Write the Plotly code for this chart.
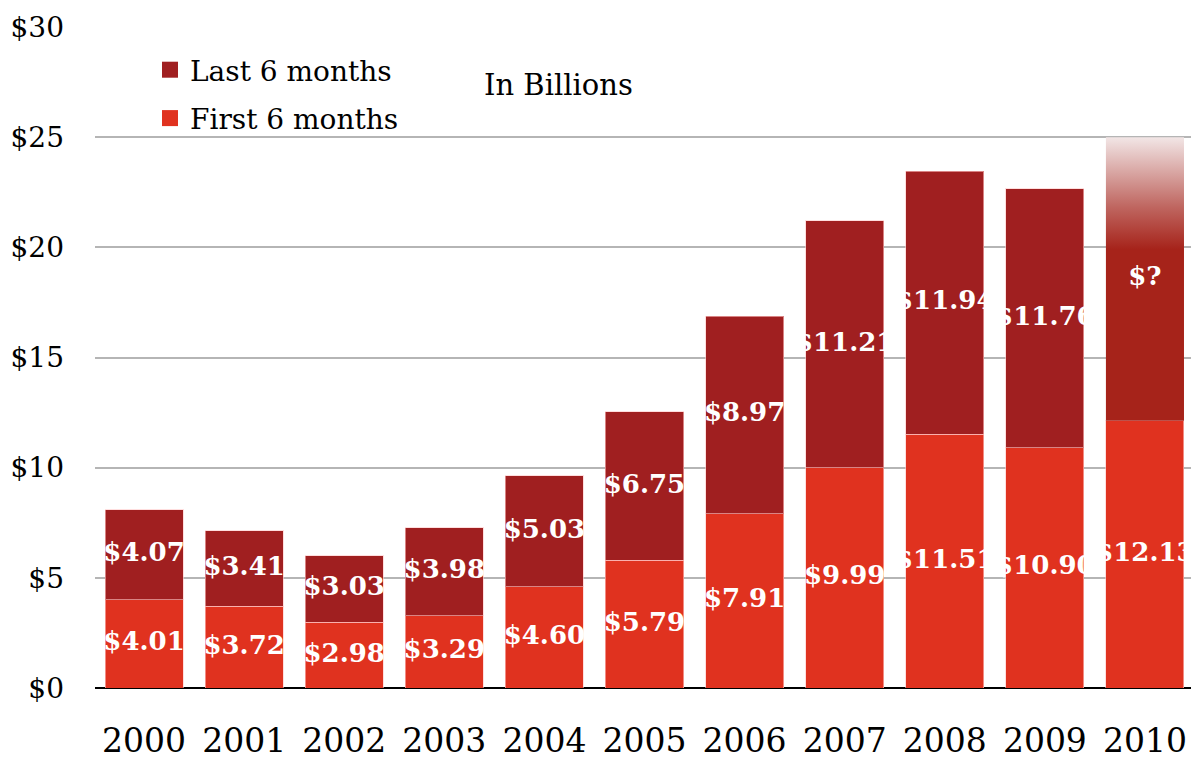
import plotly.graph_objects as go

years = ["2000", "2001", "2002", "2003", "2004", "2005", "2006", "2007", "2008", "2009", "2010"]
first_half = [4.01, 3.72, 2.98, 3.29, 4.60, 5.79, 7.91, 9.99, 11.51, 10.90, 12.13]
last_half = [4.07, 3.41, 3.03, 3.98, 5.03, 6.75, 8.97, 11.21, 11.94, 11.76, None]
projected_total_2010 = 25.0
first_labels = ["$4.01", "$3.72", "$2.98", "$3.29", "$4.60", "$5.79", "$7.91", "$9.99", "$11.51", "$10.90", "$12.13"]
last_labels = ["$4.07", "$3.41", "$3.03", "$3.98", "$5.03", "$6.75", "$8.97", "$11.21", "$11.94", "$11.76", "$?"]

C_FIRST = "#e0321f"
C_LAST = "#a01f20"
C_PROJ = "#a6231a"
FONT = "DejaVu Serif"
BW = 0.78

W, H = 1191, 760
ML, MT, MB = 95, 27, 72

xs = list(range(len(years)))
fig = go.Figure()

fig.add_trace(go.Bar(
    x=xs, y=first_half, name="First 6 months", width=BW, showlegend=False,
    marker=dict(color=C_FIRST, line=dict(color="rgba(255,200,200,0.6)", width=1)),
))
fig.add_trace(go.Bar(
    x=xs[:-1], y=last_half[:-1], name="Last 6 months", width=BW, showlegend=False,
    marker=dict(color=C_LAST, line=dict(color="rgba(255,200,200,0.6)", width=1)),
))

# projected 2010 second half with vertical fade
i = len(years) - 1
base = first_half[i]
px_ = [i - BW / 2, i + BW / 2, i + BW / 2, i - BW / 2, i - BW / 2]
py_ = [base, base, projected_total_2010, projected_total_2010, base]
solid_frac = (19.9 - base) / (projected_total_2010 - base)
fig.add_trace(go.Scatter(
    x=px_, y=py_, mode="lines", fill="toself", line=dict(width=0),
    fillgradient=dict(type="vertical", colorscale=[
        [0, C_PROJ], [solid_frac, C_PROJ], [solid_frac + 0.15, "#bf6660"],
        [1, "#f2e6e6"]]),
    showlegend=False, hoverinfo="skip",
))

# labels
mid_first = [v / 2 for v in first_half]
mid_last = []
for f, l in zip(first_half, last_half):
    top = l if l is not None else projected_total_2010 - f
    mid_last.append(f + top / 2)

fig.add_trace(go.Scatter(
    x=xs, y=mid_first, mode="text", text=first_labels,
    textfont=dict(family=FONT, size=26, color="white", weight="bold"),
    showlegend=False, cliponaxis=False, hoverinfo="skip",
))
fig.add_trace(go.Scatter(
    x=xs, y=mid_last, mode="text", text=last_labels,
    textfont=dict(family=FONT, size=26, color="white", weight="bold"),
    showlegend=False, cliponaxis=False, hoverinfo="skip",
))

# legend entries
fig.add_trace(go.Scatter(
    x=[None], y=[None], mode="markers", name="Last 6 months", legendgroup="a",
    marker=dict(symbol="square", size=17, color=C_LAST),
))
fig.add_trace(go.Scatter(
    x=[None], y=[None], mode="markers", name="First 6 months", legendgroup="b",
    marker=dict(symbol="square", size=17, color=C_FIRST),
))

plot_w = W - ML
plot_h = H - MT - MB

fig.update_layout(
    width=W, height=H,
    margin=dict(l=ML, r=0, t=MT, b=MB, autoexpand=False),
    barmode="stack",
    plot_bgcolor="white", paper_bgcolor="white",
    font=dict(family=FONT, color="black"),
    legend=dict(
        x=(150 - ML) / plot_w, y=(688 - 45) / plot_h, xanchor="left", yanchor="top",
        traceorder="grouped", tracegroupgap=9, itemsizing="trace",
        font=dict(family=FONT, size=28),
        bgcolor="rgba(0,0,0,0)",
    ),
    xaxis=dict(
        tickmode="array", tickvals=xs, ticktext=years,
        range=[-0.49, 10.46], showgrid=False,
        tickfont=dict(family=FONT, size=33), ticks="",
        ticklabelstandoff=30, showline=False, zeroline=False,
    ),
    yaxis=dict(
        range=[0, 30], dtick=5, tickprefix="$",
        showgrid=True, gridcolor="#b5b5b5", gridwidth=2,
        zeroline=True, zerolinecolor="black", zerolinewidth=2,
        tickfont=dict(family=FONT, size=28), ticklabelstandoff=30,
        ticks="",
    ),
    annotations=[dict(
        text="In Billions", x=(558 - ML) / plot_w, y=27.37, xref="paper", yref="y",
        showarrow=False, font=dict(family=FONT, size=29),
    )],
)

fig.write_html(
    "out.html",
    config={"displayModeBar": False},
    post_script="document.body.style.margin='0';document.body.style.overflow='hidden';",
)
